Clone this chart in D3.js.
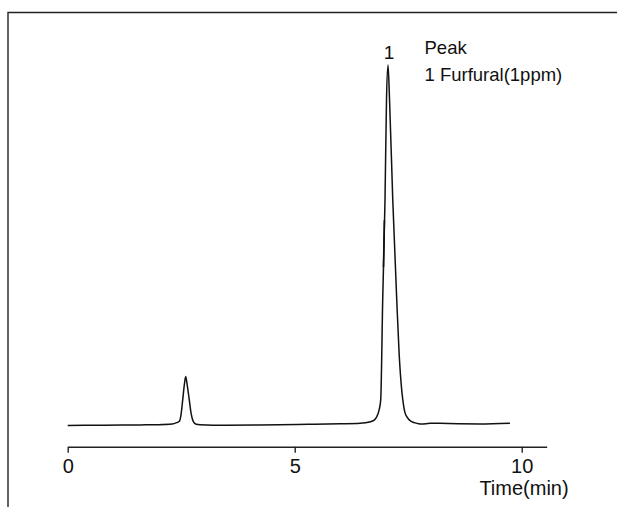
<!DOCTYPE html>
<html>
<head>
<meta charset="utf-8">
<script src="https://cdn.jsdelivr.net/npm/d3@7"></script>
<style>
  body { margin: 0; background: #fff; }
  svg { display: block; font-family: "Liberation Sans", Arial, sans-serif; }
</style>
</head>
<body>
<svg id="chart" width="617" height="507"></svg>
<script>
// chromatogram trace (time in min, detector response in arbitrary units)
var times = [0, 0.8, 1.6, 2.0, 2.3, 2.4, 2.46, 2.5, 2.533, 2.57, 2.599, 2.63, 2.678, 2.72, 2.767, 2.83, 2.914,
             3.2, 4.24, 5.3, 6.0, 6.44, 6.65, 6.75, 6.81, 6.86, 6.894, 6.938, 6.989, 7.022, 7.055, 7.088,
             7.159, 7.247, 7.30, 7.36, 7.40, 7.43, 7.50, 7.577, 7.70, 7.80, 7.98, 8.2, 9.08, 9.74];
var signal = [0.1, 0.2, 0.28, 0.33, 0.5, 0.9, 1.3, 3.5, 7.2, 11.5, 13.7, 11.5, 7.2, 3.3, 1.2, 0.45, 0.3,
              0.2, 0.28, 0.45, 0.6, 0.75, 1.1, 1.6, 2.6, 4.5, 7.2, 35, 62.8, 90.6, 100, 90.6,
              62.8, 35, 20, 9.5, 5.5, 3.6, 2.0, 1.2, 0.7, 0.5, 0.75, 0.7, 0.55, 0.75];

// short event mark drawn over the left flank of peak 1
var markTimes = [6.955, 6.975];
var markValues = [44, 57];

var tickValues = [0, 5, 10];
var peakLabels = ["1"];
var peakTimes = [7.055];
var legendLines = ["Peak", "1 Furfural(1ppm)"];

var svg = d3.select("#chart");

var x = d3.scaleLinear().domain([0, 10.55]).range([67.7, 546.7]);
var y = d3.scaleLinear().domain([0, 100]).range([425.9, 65]);

// frame (left and top edges)
svg.append("path")
    .attr("d", "M8,507V12.5H617")
    .attr("fill", "none")
    .attr("stroke", "#222")
    .attr("stroke-width", 1.4);

// time axis
var axis = svg.append("g")
    .attr("transform", "translate(0,446.7)")
    .call(d3.axisBottom(x).tickValues(tickValues).tickSize(6).tickSizeOuter(0).tickPadding(6)
          .tickFormat(d3.format("d")));
axis.select(".domain").attr("stroke", "#222").attr("stroke-width", 1.4);
axis.selectAll(".tick line").attr("stroke", "#222").attr("stroke-width", 1.4);
axis.selectAll(".tick text")
    .attr("fill", "#111")
    .style("font-size", "20px")
    .style("font-family", "'Liberation Sans', Arial, sans-serif");

svg.append("text")
    .attr("x", 524)
    .attr("y", 495)
    .attr("text-anchor", "middle")
    .style("font-size", "20px")
    .attr("fill", "#111")
    .text("Time(min)");

// trace
var pts = times.map(function(t, i) { return [t, signal[i]]; });
var line = d3.line()
    .x(function(d) { return x(d[0]); })
    .y(function(d) { return y(d[1]); })
    .curve(d3.curveMonotoneX);

svg.append("path")
    .datum(pts)
    .attr("d", line)
    .attr("fill", "none")
    .attr("stroke", "#111")
    .attr("stroke-width", 1.5)
    .attr("stroke-linejoin", "round");

svg.append("path")
    .datum(markTimes.map(function(t, i) { return [t, markValues[i]]; }))
    .attr("d", d3.line().x(function(d) { return x(d[0]); }).y(function(d) { return y(d[1]); }))
    .attr("stroke", "#111")
    .attr("stroke-width", 1.6);

// peak number
svg.selectAll(".peak-label")
    .data(peakLabels)
  .enter().append("text")
    .attr("class", "peak-label")
    .attr("x", function(d, i) { return x(peakTimes[i]) + 1; })
    .attr("y", 59)
    .attr("text-anchor", "middle")
    .style("font-size", "19px")
    .attr("fill", "#111")
    .text(function(d) { return d; });

// legend
svg.selectAll(".legend")
    .data(legendLines)
  .enter().append("text")
    .attr("class", "legend")
    .attr("x", 424.5)
    .attr("y", function(d, i) { return 54 + i * 26.5; })
    .style("font-size", "18.5px")
    .attr("fill", "#111")
    .text(function(d) { return d; });
</script>
</body>
</html>
